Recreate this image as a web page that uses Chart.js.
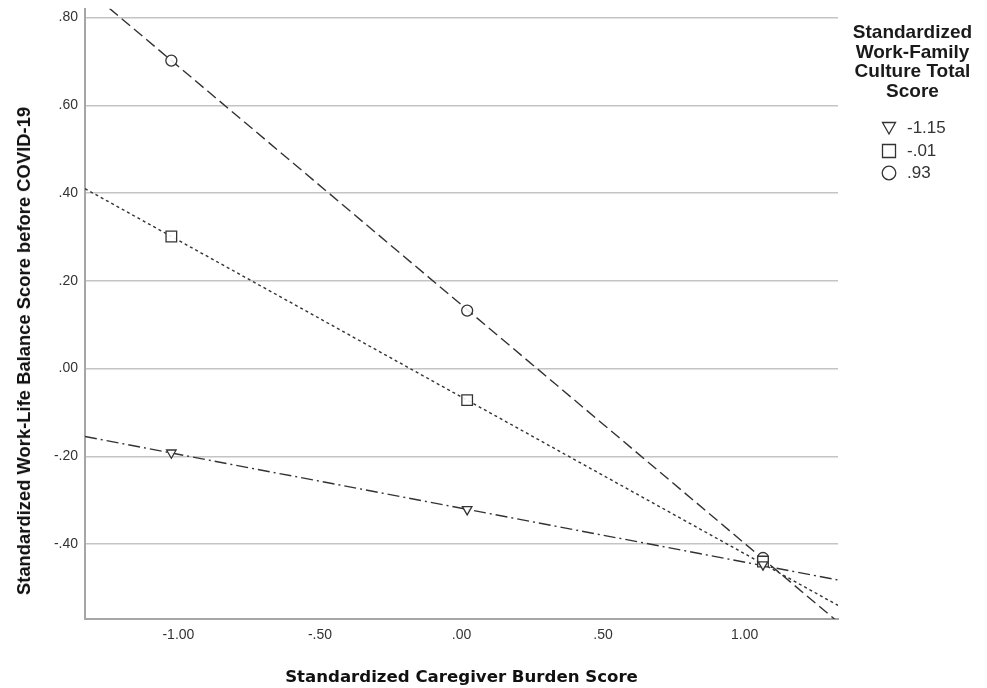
<!DOCTYPE html>
<html>
<head>
<meta charset="utf-8">
<script src="https://cdn.jsdelivr.net/npm/chart.js@4.4.1/dist/chart.umd.min.js"></script>
<style>
  html, body { margin: 0; padding: 0; background: #fff; }
  #wrap { position: relative; width: 987px; height: 688px; overflow: hidden; }
  #legend { position: absolute; left: 838px; top: 22px; width: 149px; font-family: "Liberation Sans", Arial, sans-serif; color: #222; }
  #legend .ttl { text-align: center; font-weight: bold; font-size: 19px; line-height: 19.5px; color: #1a1a1a; }
  #legend .items { position: absolute; left: 43px; top: 95px; }
  #legend .item { display: flex; align-items: center; height: 22.5px; font-size: 17px; color: #333; }
  #legend canvas { margin-right: 10px; }
  #ytitle { position: absolute; left: 23.5px; top: 351px; transform: translate(-50%, -50%) rotate(-90deg);
    white-space: nowrap; font-family: "Liberation Sans", Arial, sans-serif; font-weight: bold; font-size: 18.4px; color: #111; }
</style>
</head>
<body>
<div id="wrap">
  <canvas id="c" width="987" height="688"></canvas>
  <div id="ytitle"></div>
  <div id="legend"></div>
</div>
<script>
// ---- data ----
const legendTitle = ["Standardized", "Work-Family", "Culture Total", "Score"];
const groupLabels = ["-1.15", "-.01", ".93"];
const xPoints = [-1.025, 0.02, 1.065];
const triangleVals = [-0.192, -0.321, -0.447];
const squareVals = [0.301, -0.072, -0.440];
const circleVals = [0.702, 0.132, -0.432];
const lineX = [-1.33, 1.33];
const triangleLine = [-0.155, -0.482];
const squareLine = [0.410, -0.540];
const circleLine = [0.868, -0.578];
const xTicks = [-1.0, -0.5, 0.0, 0.5, 1.0];
const yTicks = [-0.4, -0.2, 0.0, 0.2, 0.4, 0.6, 0.8];
const xTitle = "Standardized Caregiver Burden Score";
const yTitle = "Standardized Work-Life Balance Score before COVID-19";

function fmt(v) {
  let s = Math.abs(v).toFixed(2);
  if (s.startsWith("0")) s = s.slice(1);
  return (v < -1e-9 ? "-" : "") + s;
}
const toPts = (xs, ys) => xs.map((x, i) => ({ x: x, y: ys[i] }));

const ink = "#333";
const lineStyles = [
  { vals: triangleLine, dash: [12, 4, 2, 4] },
  { vals: squareLine, dash: [3, 3] },
  { vals: circleLine, dash: [11, 5] }
];
const markerStyles = [
  { vals: triangleVals, style: "triangle", rot: 180, r: 5.5 },
  { vals: squareVals, style: "rect", rot: 0, r: 7.5 },
  { vals: circleVals, style: "circle", rot: 0, r: 5.5 }
];

const datasets = [];
lineStyles.forEach((l, i) => {
  datasets.push({
    type: "line", label: groupLabels[i] + " fit", data: toPts(lineX, l.vals),
    borderColor: ink, borderWidth: 1.4, borderDash: l.dash, pointRadius: 0,
    fill: false, tension: 0, order: 2
  });
});
markerStyles.forEach((m, i) => {
  datasets.push({
    type: "scatter", label: groupLabels[i], data: toPts(xPoints, m.vals),
    pointStyle: m.style, rotation: m.rot, pointRadius: m.r, pointHoverRadius: m.r,
    borderColor: "#333", borderWidth: 1.3, backgroundColor: "rgba(255,255,255,0.9)",
    showLine: false, order: 1
  });
});

new Chart(document.getElementById("c"), {
  type: "scatter",
  data: { datasets: datasets },
  options: {
    responsive: false, animation: false,
    layout: { padding: { top: 8, right: 149, left: 0, bottom: 0 } },
    plugins: { legend: { display: false }, tooltip: { enabled: false } },
    scales: {
      x: {
        type: "linear", min: lineX[0], max: lineX[1],
        afterBuildTicks: s => { s.ticks = xTicks.map(v => ({ value: v })); },
        afterFit: s => { s.height = 69; s.paddingLeft = 0; s.paddingRight = 0; },
        grid: { display: false, drawTicks: false },
        border: { display: true, color: "#a6a6a6", width: 2 },
        ticks: { callback: v => fmt(v), color: "#333", padding: 8,
          font: { family: "Liberation Sans", size: 14 } },
        title: { display: true, text: xTitle, color: "#111", padding: { top: 0, bottom: 0 },
          font: { family: "DejaVu Sans", size: 16.6, weight: "bold" } }
      },
      y: {
        type: "linear", min: -0.571, max: 0.82,
        afterBuildTicks: s => { s.ticks = yTicks.map(v => ({ value: v })); },
        afterFit: s => { s.width = 85; s.paddingTop = 0; s.paddingBottom = 0; },
        grid: { color: "#c4c4c4", lineWidth: 1.5, drawTicks: false },
        border: { display: true, color: "#a6a6a6", width: 2 },
        ticks: { callback: v => fmt(v), color: "#333", padding: 7,
          font: { family: "Liberation Sans", size: 14 } },
        title: { display: false }
      }
    }
  }
});

document.getElementById("ytitle").textContent = yTitle;

// ---- HTML legend built from the arrays ----
const lg = document.getElementById("legend");
const ttl = document.createElement("div");
ttl.className = "ttl";
ttl.innerHTML = legendTitle.join("<br>");
lg.appendChild(ttl);
const items = document.createElement("div");
items.className = "items";
lg.appendChild(items);
markerStyles.forEach((m, i) => {
  const row = document.createElement("div");
  row.className = "item";
  const cv = document.createElement("canvas");
  cv.width = 16; cv.height = 16;
  const ctx = cv.getContext("2d");
  ctx.strokeStyle = "#333"; ctx.lineWidth = 1.3;
  ctx.beginPath();
  if (m.style === "triangle") { ctx.moveTo(1.5, 2.5); ctx.lineTo(14.5, 2.5); ctx.lineTo(8, 14); ctx.closePath(); }
  else if (m.style === "rect") { ctx.rect(1.5, 1.5, 13, 13); }
  else { ctx.arc(8, 8, 6.8, 0, Math.PI * 2); }
  ctx.stroke();
  row.appendChild(cv);
  const t = document.createElement("span");
  t.textContent = groupLabels[i];
  row.appendChild(t);
  items.appendChild(row);
});
</script>
</body>
</html>
